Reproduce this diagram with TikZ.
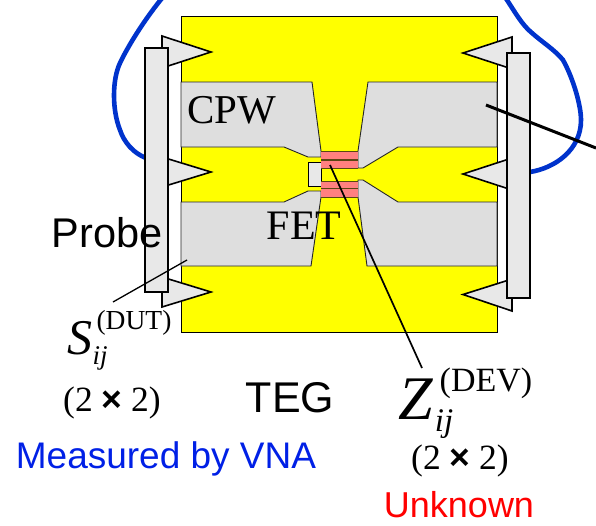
\documentclass[tikz,border=0pt]{standalone}
\usepackage{fontspec}
\setmainfont{Liberation Serif}
\setsansfont{Liberation Sans}
\definecolor{yel}{RGB}{255,255,0}
\definecolor{cpw}{RGB}{222,222,222}
\definecolor{prb}{RGB}{232,232,232}
\definecolor{red1}{RGB}{255,128,128}
\definecolor{blu}{RGB}{0,51,204}
\definecolor{txtblu}{RGB}{0,32,230}
\definecolor{gatecol}{RGB}{90,70,20}
\newcommand{\fsz}[1]{\fontsize{#1}{#1}\selectfont}
\newcommand{\mulsign}{{\sffamily\bfseries ×}}
\tikzset{
 x=1pt,y=-1pt,
 cpwshape/.style={fill=cpw,draw=black!85,line width=0.9pt,line join=miter},
 tipshape/.style={fill=prb,draw=black,line width=1.6pt,line join=miter},
 bar/.style={fill=prb,draw=black,line width=1.6pt},
 redstrip/.style={fill=red1,draw=none},
 gateline/.style={draw=gatecol,line width=1.4pt},
 cable/.style={draw=blu,line width=4.6pt},
 lab/.style={inner sep=0pt,anchor=center},
}
\begin{document}
\begin{tikzpicture}
\useasboundingbox (0,0) rectangle (596,525);
\draw[cable] (163,-3) .. controls (148,15) and (130,42) .. (120,63) .. controls (112,80) and (112,110) .. (120,130) .. controls (124,142) and (133,153) .. (146,158);
\draw[cable] (505,-3) .. controls (515,12) and (522,25) .. (532,33) .. controls (542,42) and (555,50) .. (563,60) .. controls (573,78) and (581,105) .. (581,120) .. controls (581,150) and (555,168) .. (530,172);
\draw[fill=yel,draw=black,line width=0.8pt] (181,16) rectangle (497,332);
\path[cpwshape] (181,82) -- (312,82) -- (321,151) -- (321,157) -- (308,157) -- (284,147) -- (181,147) -- cycle;
\path[cpwshape] (497,82) -- (368,82) -- (358,151) -- (358,168) -- (363,168) -- (398,147) -- (497,147) -- cycle;
\path[cpwshape] (181,202) -- (284,202) -- (308,191) -- (321,191) -- (321,197) -- (311,266) -- (181,266) -- cycle;
\path[cpwshape] (497,202) -- (398,202) -- (363,180) -- (358,180) -- (358,197) -- (367,266) -- (497,266) -- cycle;
\draw[fill=prb,draw=black,line width=1pt] (308,162) rectangle (321,186);
\draw[redstrip] (321,151) rectangle (358,159);
\draw[redstrip] (321,161) rectangle (358,168);
\draw[redstrip] (321,181) rectangle (358,188);
\draw[redstrip] (321,189) rectangle (358,197);
\draw[gatecol,line width=0.8pt] (321,151) -- (358,151) (321,197) -- (358,197) (321,168) -- (358,168) (321,181) -- (358,181);
\draw[gateline] (321,160) -- (358,160);
\draw[gateline] (321,188.5) -- (358,188.5);
\draw[tipshape] (162,36) -- (211,52) -- (162,68) -- cycle;
\draw[tipshape] (162,157) -- (211,172) -- (162,187) -- cycle;
\draw[tipshape] (162,277) -- (211,292) -- (162,307) -- cycle;
\draw[tipshape] (512,37) -- (463,53) -- (512,69) -- cycle;
\draw[tipshape] (512,158) -- (463,174) -- (512,190) -- cycle;
\draw[tipshape] (512,279) -- (463,294.5) -- (512,311) -- cycle;
\draw[bar] (145,48) rectangle (168,292);
\draw[bar] (507,53) rectangle (530,298);
\node[lab,font=\sffamily\fsz{41.5}] (probe) at (107,233) {Probe};
\node[lab,font=\fsz{41}] (cpw) at (232,110) {CPW};
\node[lab,font=\fsz{42}] (fet) at (304,226) {FET};
\node[lab,font=\sffamily\fsz{43}] (teg) at (290,398) {TEG};
\node[lab,font=\itshape\fsz{50}] (ss) at (80,338) {S};
\node[lab,font=\fsz{27.5}] (sup1) at (134,323) {(DUT)};
\node[lab,font=\itshape\fsz{27}] (sub1) at (100,358) {ij};
\node[lab,font=\itshape\fsz{62}] (zz) at (416,399) {Z};
\node[lab,font=\fsz{34}] (sup2) at (486,383) {(DEV)};
\node[lab,font=\itshape\fsz{33}] (sub2) at (444,424) {ij};
\node[lab,font=\fsz{35.5}] (s2) at (112,403) {(2 \mulsign{} 2)};
\node[lab,font=\fsz{35.5}] (z2) at (460,461) {(2 \mulsign{} 2)};
\node[lab,font=\sffamily\fsz{37},text=txtblu] (vna) at (166,459) {Measured by VNA};
\node[lab,font=\sffamily\fsz{36},text=red] (unk) at (459,505) {Unknown};
\coordinate (a1) at (187,260); \coordinate (a2) at (113,302);
\coordinate (b1) at (330,165); \coordinate (b2) at (422,368);
\coordinate (c1) at (486,105); \coordinate (c2) at (596,148);
\draw[black,line width=1.3pt] (a1) -- (a2);
\draw[black,line width=1.7pt] (b1) -- (b2);
\draw[black,line width=3pt] (c1) -- (c2);
\end{tikzpicture}
\end{document}
